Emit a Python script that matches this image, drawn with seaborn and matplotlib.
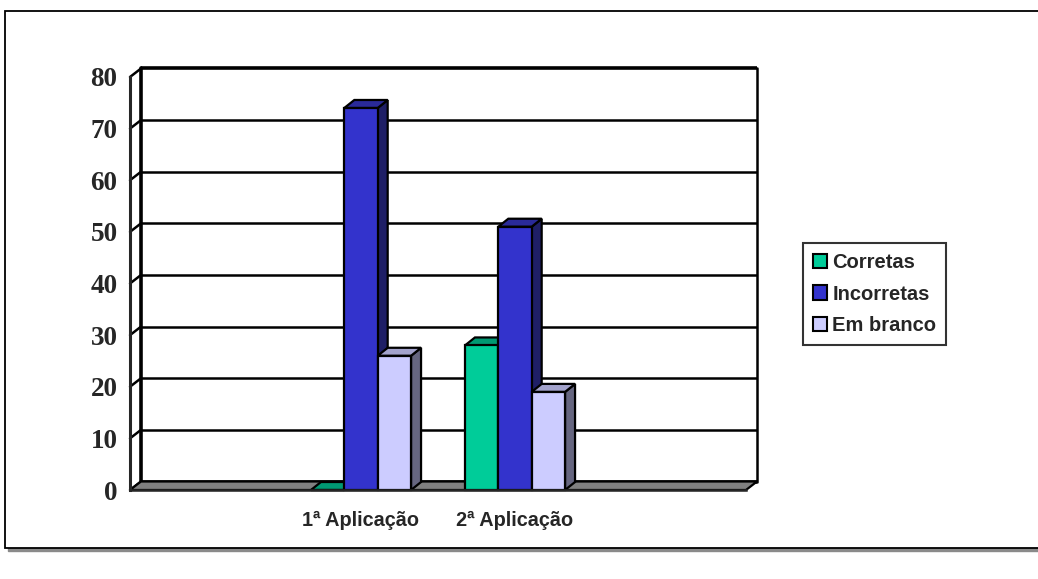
import matplotlib
matplotlib.use("Agg")
import matplotlib.pyplot as plt
from matplotlib.patches import Polygon, Rectangle, Patch
from matplotlib.colors import to_hex
import seaborn as sns
import pandas as pd

# ---- data ----
categories = ["1ª Aplicação", "2ª Aplicação"]
series = ["Corretas", "Incorretas", "Em branco"]
corretas = [0, 28]
incorretas = [74, 51]
em_branco = [26, 19]
y_ticks = [0, 10, 20, 30, 40, 50, 60, 70, 80]

front_colors = {"Corretas": "#00CC99", "Incorretas": "#3333CC", "Em branco": "#CCCCFF"}
top_colors = {"Corretas": "#009973", "Incorretas": "#2A2A99", "Em branco": "#A3A3CC"}
side_colors = {"Corretas": "#006650", "Incorretas": "#1F1F66", "Em branco": "#666680"}

rows = []
for s, vals in zip(series, [corretas, incorretas, em_branco]):
    for c, v in zip(categories, vals):
        rows.append({"Aplicação": c, "Resposta": s, "Valor": v})
df = pd.DataFrame(rows)

sns.set_style("white")
plt.rcParams["font.family"] = ["Liberation Sans", "DejaVu Sans"]

W, H = 1038, 579
fig = plt.figure(figsize=(W / 100, H / 100), dpi=100)
fig.patch.set_facecolor("white")

# outer chart-area frame with a shadow along the bottom edge
fig.add_artist(Rectangle((8 / W, 1 - 551 / H), 1100 / W, 537 / H, transform=fig.transFigure,
                         facecolor="#8a8a8a", edgecolor="#8a8a8a", linewidth=1.0, zorder=0))
fig.add_artist(Rectangle((5 / W, 1 - 548 / H), 1100 / W, 537 / H, transform=fig.transFigure,
                         facecolor="white", edgecolor="black", linewidth=1.3, zorder=0.5))

ax = fig.add_axes([130 / W, 89 / H, 616 / W, 413 / H])
ax.set_facecolor("none")
ax.set_zorder(2)

sns.barplot(data=df, x="Aplicação", y="Valor", hue="Resposta", order=categories,
            hue_order=series, palette=front_colors, saturation=1, width=0.65,
            edgecolor="black", linewidth=1.6, legend=False, errorbar=None, ax=ax, zorder=10)

xmin, xmax = -1.5, 2.5
ax.set_xlim(xmin, xmax)
ax.set_ylim(0, 80)

# depth offsets given in pixels, converted to data units through the axes transform
inv = ax.transData.inverted()
o = ax.transData.transform((0, 0))


def depth(px, py):
    p = inv.transform((o[0] + px, o[1] + py))
    return p[0], p[1]


wdx, wdy = depth(11, 8.5)   # back wall
bdx, bdy = depth(10, 8)     # column depth

# back wall grid, with the diagonal running along the side wall
for v in y_ticks:
    lw = 2.6 if v in (0, 80) else 1.8
    ax.plot([xmin + wdx, xmax + wdx], [v + wdy, v + wdy], color="black", lw=lw,
            clip_on=False, zorder=1, solid_capstyle="butt")
    ax.plot([xmin, xmin + wdx], [v, v + wdy], color="black", lw=1.8, clip_on=False, zorder=1)
ax.plot([xmin + wdx, xmin + wdx], [wdy, 80 + wdy], color="black", lw=2.6, clip_on=False, zorder=1)
ax.plot([xmax + wdx, xmax + wdx], [wdy, 80 + wdy], color="black", lw=1.8, clip_on=False, zorder=1)

# floor
ax.add_patch(Polygon([(xmin, 0), (xmax, 0), (xmax + wdx, wdy), (xmin + wdx, wdy)],
                     closed=True, facecolor="#808080", edgecolor="black", lw=1.6,
                     clip_on=False, zorder=2))

# side and top faces of each column, drawn left to right
lookup = {to_hex(front_colors[s]).lower(): s for s in series}
bars = sorted([p for p in ax.patches if isinstance(p, Rectangle) and p.get_width() > 0],
              key=lambda p: p.get_x())
z = 3
for p in bars:
    s = lookup.get(to_hex(p.get_facecolor()).lower())
    if s is None:
        continue
    x0, w, h = p.get_x(), p.get_width(), p.get_height()
    side = [(x0 + w, 0), (x0 + w, h), (x0 + w + bdx, h + bdy), (x0 + w + bdx, bdy)]
    top = [(x0, h), (x0 + w, h), (x0 + w + bdx, h + bdy), (x0 + bdx, h + bdy)]
    ax.add_patch(Polygon(side, closed=True, facecolor=side_colors[s], edgecolor="black",
                         lw=1.6, clip_on=False, zorder=z))
    ax.add_patch(Polygon(top, closed=True, facecolor=top_colors[s], edgecolor="black",
                         lw=1.6, clip_on=False, zorder=z + 0.5))
    p.set_clip_on(False)
    z += 1
for p in bars:
    p.set_zorder(20)

# axes styling
for side_name in ("top", "right"):
    ax.spines[side_name].set_visible(False)
ax.spines["left"].set_linewidth(2.2)
ax.spines["left"].set_zorder(25)
ax.spines["bottom"].set_linewidth(1.8)
ax.spines["bottom"].set_zorder(25)

ax.set_yticks(y_ticks)
ax.set_yticklabels([str(v) for v in y_ticks], fontfamily="Liberation Serif",
                   fontweight="bold", fontsize=19.5)
ax.tick_params(axis="y", direction="out", length=7, width=1.8, pad=2, color="black")

ax.set_xticks([0, 1])
ax.set_xticklabels(categories, fontweight="bold", fontsize=14.3)
ax.set_xticks([-1.5, -0.5, 0.5, 1.5, 2.5], minor=True)
ax.tick_params(axis="x", which="major", length=0, pad=15)
ax.tick_params(axis="x", which="minor", direction="out", length=8, width=1.8, color="black")
ax.set_xlabel("")
ax.set_ylabel("")
ax.grid(False)

# legend
handles = [Patch(facecolor=front_colors[s], edgecolor="black", linewidth=1.5, label=s)
           for s in series]
leg = fig.legend(handles=handles, loc="upper left", bbox_to_anchor=(803 / W, 1 - 243 / H),
                 frameon=True, fancybox=False, edgecolor="black",
                 prop={"family": "Liberation Sans", "weight": "bold", "size": 14.5},
                 handlelength=0.7, handleheight=0.7, handletextpad=0.25,
                 labelspacing=0.62, borderpad=0.5, borderaxespad=0)
leg.get_frame().set_linewidth(1.5)
leg.set_zorder(5)

fig.savefig("out.png", dpi=100)
